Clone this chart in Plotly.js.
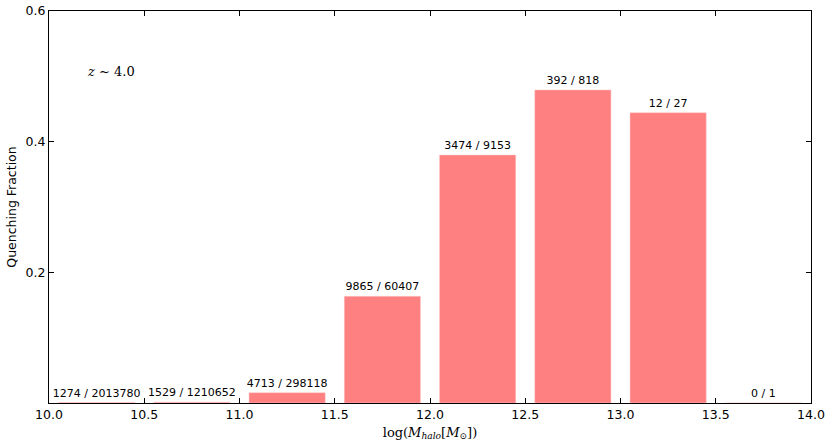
<!DOCTYPE html>
<html>
<head>
<meta charset="utf-8">
<script src="https://cdn.plot.ly/plotly-3.0.1.min.js"></script>
<style>html,body{margin:0;padding:0;background:#fff;}#chart{width:830px;height:446px;}</style>
</head>
<body>
<div id="chart"></div>
<script>
const binCenters = [10.25, 10.75, 11.25, 11.75, 12.25, 12.75, 13.25, 13.75];
const quenchedFraction = [0.00063, 0.00126, 0.0158, 0.1633, 0.3796, 0.4792, 0.4444, 0];
const countLabels = ["1274 / 2013780", "1529 / 1210652", "4713 / 298118", "9865 / 60407",
                     "3474 / 9153", "392 / 818", "12 / 27", "0 / 1"];
const xTicks = [10.0, 10.5, 11.0, 11.5, 12.0, 12.5, 13.0, 13.5, 14.0];
const yTicks = [0.2, 0.4, 0.6];

const trace = {
  type: 'bar',
  x: binCenters,
  y: quenchedFraction,
  width: 0.4,
  text: countLabels,
  textposition: 'outside',
  constraintext: 'none',
  cliponaxis: false,
  textfont: {family: 'DejaVu Sans', size: 11, color: '#000'},
  marker: {color: 'rgb(255,128,128)', line: {color: 'rgb(255,200,200)', width: 0.5}},
  hoverinfo: 'none'
};

const layout = {
  width: 830, height: 446,
  margin: {l: 49, r: 19, t: 11, b: 43},
  paper_bgcolor: '#fff', plot_bgcolor: '#fff',
  showlegend: false,
  font: {family: 'DejaVu Sans', color: '#000'},
  xaxis: {
    range: [10, 14], tickvals: xTicks, ticktext: xTicks.map(v => v.toFixed(1)),
    ticks: 'inside', ticklen: 5, tickcolor: '#000', tickwidth: 1,
    showline: true, linecolor: '#000', linewidth: 1, mirror: 'ticks',
    showgrid: false, zeroline: false,
    tickfont: {family: 'DejaVu Sans', size: 12.5, color: '#000'},
    title: {text: 'log(<i>M</i><sub><i>halo</i></sub>[<i>M</i><sub>⊙</sub>])', font: {family: 'DejaVu Serif', size: 13, color: '#000'}, standoff: 6}
  },
  yaxis: {
    range: [0, 0.6], tickvals: yTicks, ticktext: yTicks.map(v => v.toFixed(1)),
    ticks: 'inside', ticklen: 5, tickcolor: '#000', tickwidth: 1,
    showline: true, linecolor: '#000', linewidth: 1, mirror: 'ticks',
    showgrid: false, zeroline: false,
    tickfont: {family: 'DejaVu Sans', size: 12.5, color: '#000'},
    title: {text: 'Quenching Fraction', font: {family: 'DejaVu Sans', size: 12.5, color: '#000'}, standoff: 6}
  },
  annotations: [{
    xref: 'paper', yref: 'paper', x: 0.047, y: 0.845, xanchor: 'left', yanchor: 'middle',
    text: '<i>z</i> ~ 4.0', showarrow: false,
    font: {family: 'DejaVu Serif', size: 13, color: '#000'}
  }]
};

Plotly.newPlot('chart', [trace], layout, {staticPlot: true});
</script>
</body>
</html>
